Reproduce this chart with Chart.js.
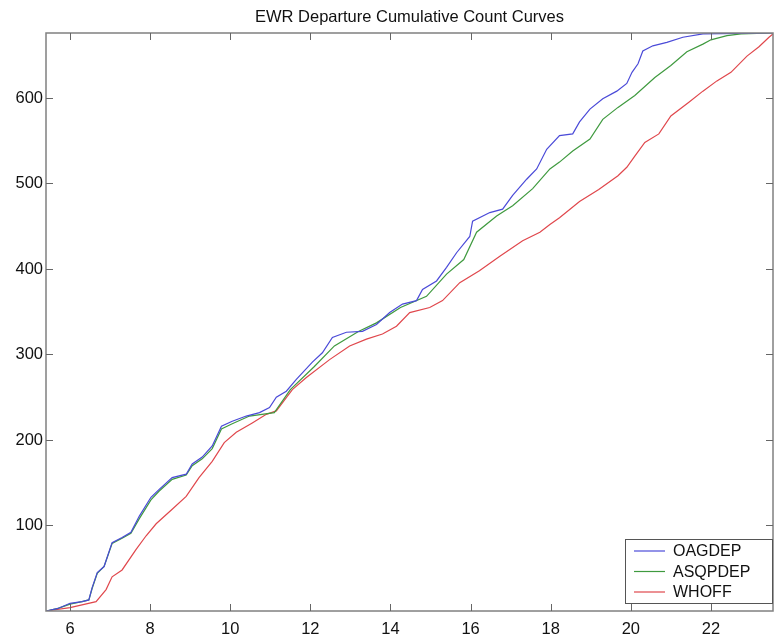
<!DOCTYPE html>
<html>
<head>
<meta charset="utf-8">
<title>EWR Departure Cumulative Count Curves</title>
<script src="https://cdn.jsdelivr.net/npm/chart.js@4/dist/chart.umd.min.js"></script>
<style>
  html, body { margin: 0; padding: 0; background: #fff; }
  #wrap { width: 774px; height: 636px; }
</style>
</head>
<body>
<div id="wrap"><canvas id="chart"></canvas></div>
<script>
// hours of day and cumulative departures
const oagTimes = [5.4, 5.7, 6.0, 6.3, 6.47, 6.55, 6.68, 6.85, 7.05, 7.3, 7.52, 7.73, 8.02, 8.22, 8.55, 8.9,
  9.05, 9.3, 9.55, 9.78, 10.05, 10.4, 10.73, 10.98, 11.15, 11.4, 11.65, 12.05, 12.3, 12.55, 12.9, 13.3,
  13.65, 13.98, 14.3, 14.65, 14.8, 15.15, 15.4, 15.65, 15.98, 16.05, 16.48, 16.8, 17.05, 17.4, 17.65,
  17.9, 18.22, 18.55, 18.72, 18.98, 19.3, 19.65, 19.9, 20.03, 20.18, 20.3, 20.55, 20.9, 21.3, 21.8, 23.55];
const oagCounts = [0, 3, 9, 11, 13, 27, 45, 52, 80, 86, 92, 111, 133, 142, 156, 160,
  172, 180, 193, 216, 222, 228, 232, 238, 250, 257, 271, 291, 302, 320, 326, 327,
  335, 349, 359, 363, 376, 386, 402, 419, 438, 456, 466, 470, 486, 505, 517,
  540, 556, 558, 572, 587, 599, 608, 617, 630, 640, 655, 661, 665, 671, 675, 676];

const asqpTimes = [5.4, 5.7, 6.0, 6.3, 6.47, 6.55, 6.68, 6.85, 7.05, 7.3, 7.52, 7.73, 8.02, 8.22, 8.55, 8.9,
  9.05, 9.3, 9.55, 9.78, 10.05, 10.48, 11.1, 11.5, 12.1, 12.6, 13.2, 13.65, 14.25, 14.9, 15.4, 15.83,
  16.15, 16.65, 17.05, 17.55, 17.98, 18.22, 18.55, 18.98, 19.3, 19.68, 20.1, 20.6, 21.0, 21.4, 21.8,
  22.0, 22.4, 22.75, 23.55];
const asqpCounts = [0, 3, 8, 11, 13, 26, 44, 52, 79, 85, 91, 108, 130, 140, 154, 159,
  170, 178, 190, 213, 219, 228, 232, 259, 286, 310, 327, 337, 355, 368, 394, 411,
  443, 462, 474, 494, 517, 525, 538, 552, 575, 589, 603, 624, 638, 654, 663,
  668, 673, 675, 676];

const whoffTimes = [5.4, 6.0, 6.65, 6.9, 7.05, 7.3, 7.65, 7.9, 8.15, 8.55, 8.9, 9.22, 9.55, 9.85, 10.15,
  10.55, 10.9, 11.15, 11.55, 11.9, 12.48, 12.98, 13.4, 13.8, 14.15, 14.48, 14.98, 15.3, 15.73, 16.22,
  16.73, 17.3, 17.73, 17.98, 18.22, 18.72, 19.2, 19.68, 19.9, 20.1, 20.35, 20.7, 21.0, 21.45, 21.8,
  22.15, 22.5, 22.9, 23.2, 23.45, 23.55];
const whoffCounts = [0, 4, 11, 25, 40, 48, 72, 88, 102, 119, 134, 156, 175, 197, 209,
  220, 230, 234, 259, 273, 294, 310, 318, 324, 333, 349, 355, 363, 384, 398,
  415, 433, 443, 452, 460, 479, 493, 509, 519, 532, 548, 558, 579, 595, 608,
  620, 630, 649, 660, 671, 675];

const xTicks = [6, 8, 10, 12, 14, 16, 18, 20, 22];
const yTicks = [100, 200, 300, 400, 500, 600];
const chartTitle = 'EWR Departure Cumulative Count Curves';

const pts = (xs, ys) => xs.map((x, i) => ({ x: x, y: ys[i] }));
const FONT = '"Liberation Sans", Arial, sans-serif';

// matlab style: title over the axes, box, inward ticks on all four sides, legend inside
const boxPlugin = {
  id: 'box',
  afterDraw(chart) {
    const { ctx, chartArea: a, scales } = chart;
    ctx.save();
    ctx.fillStyle = '#111';
    ctx.font = '16.5px ' + FONT;
    ctx.textAlign = 'center';
    ctx.textBaseline = 'middle';
    ctx.fillText(chartTitle, (a.left + a.right) / 2, 17);
    ctx.textAlign = 'left';

    ctx.strokeStyle = '#808080';
    ctx.lineWidth = 1.5;
    ctx.strokeRect(a.left, a.top, a.right - a.left, a.bottom - a.top);
    ctx.lineWidth = 1;
    ctx.strokeStyle = '#666';
    ctx.beginPath();
    xTicks.forEach(v => {
      const px = Math.round(scales.x.getPixelForValue(v)) + 0.5;
      ctx.moveTo(px, a.bottom); ctx.lineTo(px, a.bottom - 7);
      ctx.moveTo(px, a.top); ctx.lineTo(px, a.top + 7);
    });
    yTicks.forEach(v => {
      const py = Math.round(scales.y.getPixelForValue(v)) + 0.5;
      ctx.moveTo(a.left, py); ctx.lineTo(a.left + 7, py);
      ctx.moveTo(a.right, py); ctx.lineTo(a.right - 7, py);
    });
    ctx.stroke();

    // legend
    const w = 147, h = 64;
    const lx = a.right - w - 1, ly = a.bottom - h - 8;
    ctx.fillStyle = '#fff';
    ctx.fillRect(lx, ly, w, h);
    ctx.strokeStyle = '#555';
    ctx.strokeRect(lx + 0.5, ly + 0.5, w, h);
    ctx.font = '16px ' + FONT;
    chart.data.datasets.forEach((ds, i) => {
      const y = ly + 12 + i * 20.5;
      ctx.strokeStyle = ds.borderColor;
      ctx.lineWidth = 1.2;
      ctx.beginPath();
      ctx.moveTo(lx + 9, y); ctx.lineTo(lx + 40, y);
      ctx.stroke();
      ctx.fillStyle = '#111';
      ctx.fillText(ds.label, lx + 48, y + 1);
    });
    ctx.restore();
  }
};

const line = (label, data, color) => ({
  label: label,
  data: data,
  borderColor: color,
  borderWidth: 1.2,
  pointRadius: 0,
  tension: 0,
  fill: false
});

new Chart(document.getElementById('chart'), {
  type: 'line',
  data: {
    datasets: [
      line('OAGDEP', pts(oagTimes, oagCounts), '#4a4ad8'),
      line('ASQPDEP', pts(asqpTimes, asqpCounts), '#3f9a3f'),
      line('WHOFF', pts(whoffTimes, whoffCounts), '#e0474c')
    ]
  },
  options: {
    responsive: true,
    maintainAspectRatio: false,
    animation: false,
    layout: { padding: { left: 0, right: 1, top: 33, bottom: 0 } },
    plugins: {
      legend: { display: false },
      tooltip: { enabled: false },
      title: { display: false }
    },
    scales: {
      x: {
        type: 'linear',
        min: 5.4,
        max: 23.55,
        afterBuildTicks: s => { s.ticks = xTicks.map(v => ({ value: v })); },
        afterFit: s => { s.height = 25; },
        grid: { display: false, drawTicks: false },
        border: { display: false },
        ticks: {
          color: '#111',
          padding: 9,
          maxRotation: 0,
          font: { family: FONT, size: 16.5 }
        }
      },
      y: {
        type: 'linear',
        min: 0,
        max: 676,
        afterBuildTicks: s => { s.ticks = yTicks.map(v => ({ value: v })); },
        afterFit: s => { s.width = 46; },
        grid: { display: false, drawTicks: false },
        border: { display: false },
        ticks: {
          color: '#111',
          padding: 3,
          font: { family: FONT, size: 16.5 }
        }
      }
    }
  },
  plugins: [boxPlugin]
});
</script>
</body>
</html>
